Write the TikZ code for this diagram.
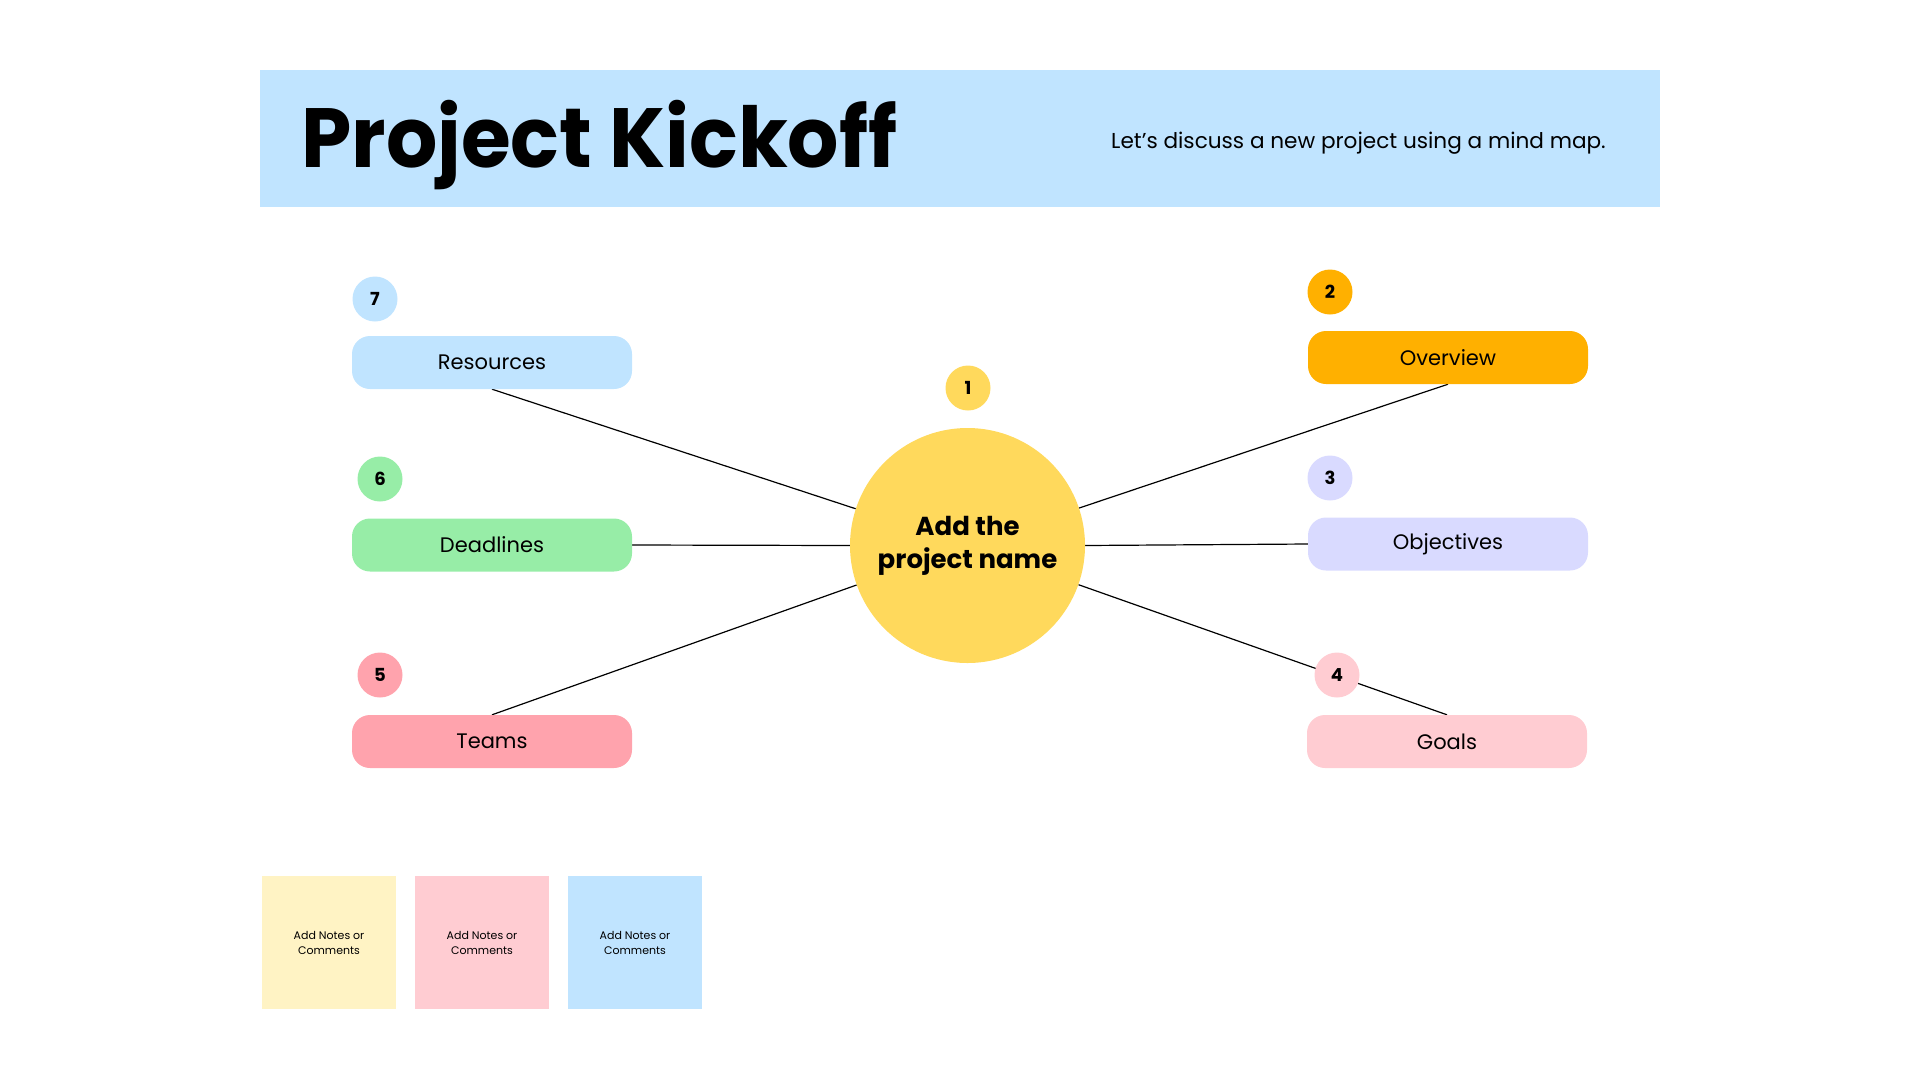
\documentclass[tikz,border=0pt]{standalone}
\usepackage{fontspec}
\setmainfont{Poppins}
\newfontfamily\headfont{Poppins}[FakeStretch=0.96]
\usepackage{xcolor}
\usepackage{tikz}
\usetikzlibrary{positioning,backgrounds}

\definecolor{skyblue}{HTML}{C0E4FF}
\definecolor{hubyellow}{HTML}{FFD95C}
\definecolor{amber}{HTML}{FFB000}
\definecolor{lavender}{HTML}{D9DAFF}
\definecolor{blush}{HTML}{FFCCD2}
\definecolor{coral}{HTML}{FFA3AD}
\definecolor{mint}{HTML}{97EDA7}
\definecolor{cream}{HTML}{FFF3C4}

\begin{document}
\begin{tikzpicture}[x=1pt, y=-1pt,
    topic/.style={rounded corners=18pt, minimum width=280pt, minimum height=53pt,
        inner sep=0pt, font=\fontsize{21}{25}\selectfont},
    badge/.style={circle, minimum size=45pt, inner sep=0pt,
        font=\bfseries\fontsize{18}{20}\selectfont},
    sticky/.style={minimum width=134pt, minimum height=133pt, inner sep=0pt,
        align=center, font=\fontsize{11}{15}\selectfont},
    link/.style={line width=1.2pt}]
    \useasboundingbox (0,0) rectangle (1920,1080);

    % Header
    \node[fill=skyblue, minimum width=1400pt, minimum height=137pt, inner sep=0pt] (header) at (960,138.5) {};
    \node[anchor=base west, inner sep=0pt, font=\headfont\bfseries\fontsize{84}{90}\selectfont] (title) at (301,167) {Project Kickoff};
    \node[anchor=base west, inner sep=0pt, font=\fontsize{21.6}{26}\selectfont] (subtitle) at (1111,148) {Let's discuss a new project using a mind map.};

    % Central topic
    \node[circle, fill=hubyellow, minimum size=235pt, inner sep=0pt, align=center,
        font=\bfseries\fontsize{26}{33}\selectfont] (hub) at (967.5,545.5) {Add the\\project name};
    \node[badge, fill=hubyellow] (n1) at (968,388) {1};

    % Right branches
    \node[topic, fill=amber] (overview) at (1448,357.5) {Overview};
    \node[badge, fill=amber] (n2) at (1330,292) {2};
    \node[topic, fill=lavender] (objectives) at (1448,544) {Objectives};
    \node[badge, fill=lavender] (n3) at (1330,478) {3};
    \node[topic, fill=blush] (goals) at (1447,741.5) {Goals};

    % Left branches
    \node[topic, fill=skyblue] (resources) at (492,362.5) {Resources};
    \node[badge, fill=skyblue] (n7) at (375,299) {7};
    \node[topic, fill=mint] (deadlines) at (492,545) {Deadlines};
    \node[badge, fill=mint] (n6) at (380,479) {6};
    \node[topic, fill=coral] (teams) at (492,741.5) {Teams};
    \node[badge, fill=coral] (n5) at (380,675) {5};

    % Connectors
    \begin{scope}[on background layer]
        \draw[link] (overview.south) -- (hub);
        \draw[link] (objectives.west) -- (hub.east);
        \draw[link] (goals.north) -- (hub);
        \draw[link] (resources.south) -- (hub);
        \draw[link] (deadlines.east) -- (hub.west);
        \draw[link] (teams.north) -- (hub);
    \end{scope}
    \node[badge, fill=blush] (n4) at (1337,675) {4};

    % Notes
    \node[sticky, fill=cream] (note1) at (329,942.5) {Add Notes or\\Comments};
    \node[sticky, fill=blush] (note2) at (482,942.5) {Add Notes or\\Comments};
    \node[sticky, fill=skyblue] (note3) at (635,942.5) {Add Notes or\\Comments};
\end{tikzpicture}
\end{document}
